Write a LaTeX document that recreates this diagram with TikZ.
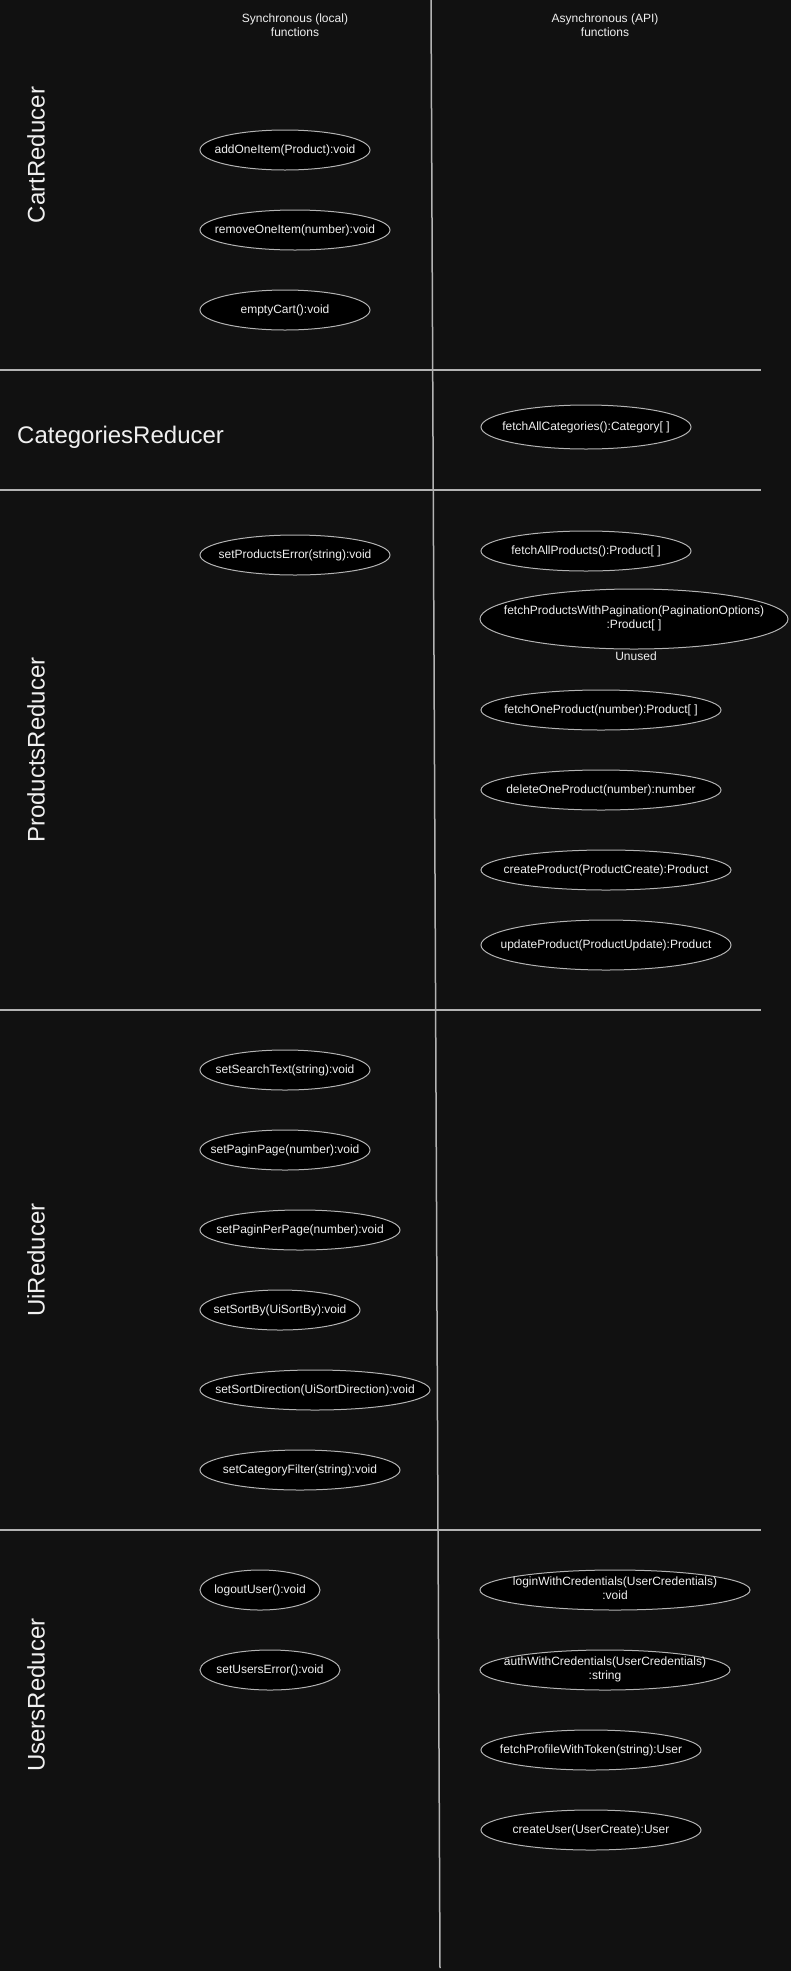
\documentclass[tikz,border=0pt]{standalone}
\usepackage{fontspec}
\setmainfont{Liberation Sans}
\usetikzlibrary{shapes.geometric}
\definecolor{bgdark}{HTML}{111111}
\definecolor{lanegray}{HTML}{B3B3B3}
\definecolor{fntext}{HTML}{F0F0F0}
\newcommand{\twoline}[2]{\begin{tabular}{@{}c@{}}#1\\#2\end{tabular}}

\begin{document}
\begin{tikzpicture}[x=1pt, y=-1pt,
    fn/.style={ellipse, draw=lanegray, line width=1pt, fill=black, text=fntext,
        font=\fontsize{12}{14}\selectfont, inner sep=0pt, minimum height=40, minimum width=#1,
        execute at begin node={\hbox to 0pt\bgroup\hss}, execute at end node={\hss\egroup}},
    lane/.style={text=fntext, font=\fontsize{24}{28}\selectfont, inner sep=0pt},
    head/.style={text=fntext, font=\fontsize{12}{14}\selectfont, align=center, inner sep=0pt},
    divider/.style={draw=lanegray, line width=1.5pt}]
    \fill[bgdark] (0,0) rectangle (791,1971);
    \useasboundingbox (0,0) rectangle (791,1971);

    \coordinate (coltop) at (431,0);
    \coordinate (colbot) at (440,1968);
    \draw[divider] (coltop) -- (colbot);

    \coordinate (cutA) at (0,370);
    \coordinate (cutB) at (0,490);
    \coordinate (cutC) at (0,1010);
    \coordinate (cutD) at (0,1530);
    \draw[divider] (cutA) -- ++(761,0);
    \draw[divider] (cutB) -- ++(761,0);
    \draw[divider] (cutC) -- ++(761,0);
    \draw[divider] (cutD) -- ++(761,0);

    \node[head] (synchead) at (295,25) {Synchronous (local)\\functions};
    \node[head] (asynchead) at (605,25) {Asynchronous (API)\\functions};

    \node[lane, rotate=90] (cartlane) at (36,155) {CartReducer};
    \node[lane, anchor=west] (catlane) at (17,437) {CategoriesReducer};
    \node[lane, rotate=90] (prodlane) at (36,750) {ProductsReducer};
    \node[lane, rotate=90] (uilane) at (36,1260) {UiReducer};
    \node[lane, rotate=90] (userlane) at (36,1695) {UsersReducer};

    \node[fn=170] (addItem) at (285,150) {addOneItem(Product):void};
    \node[fn=190] (removeItem) at (295,230) {removeOneItem(number):void};
    \node[fn=170] (emptyCart) at (285,310) {emptyCart():void};

    \node[fn=210, minimum height=44] (fetchCats) at (586,427) {fetchAllCategories():Category[ ]};

    \node[fn=190] (prodError) at (295,555) {setProductsError(string):void};
    \node[fn=210] (fetchProds) at (586,551) {fetchAllProducts():Product[ ]};
    \node[fn=308, minimum height=60] (fetchPaged) at (634,619)
        {\twoline{fetchProductsWithPagination(PaginationOptions)}{:Product[ ]}};
    \node[head, anchor=base] (unused) at (636,660) {Unused};
    \node[fn=240] (fetchOne) at (601,710) {fetchOneProduct(number):Product[ ]};
    \node[fn=240] (deleteOne) at (601,790) {deleteOneProduct(number):number};
    \node[fn=250] (createProd) at (606,870) {createProduct(ProductCreate):Product};
    \node[fn=250, minimum height=50] (updateProd) at (606,945) {updateProduct(ProductUpdate):Product};

    \node[fn=170] (searchText) at (285,1070) {setSearchText(string):void};
    \node[fn=170] (paginPage) at (285,1150) {setPaginPage(number):void};
    \node[fn=200] (perPage) at (300,1230) {setPaginPerPage(number):void};
    \node[fn=160] (sortBy) at (280,1310) {setSortBy(UiSortBy):void};
    \node[fn=230] (sortDir) at (315,1390) {setSortDirection(UiSortDirection):void};
    \node[fn=200] (catFilter) at (300,1470) {setCategoryFilter(string):void};

    \node[fn=120] (logout) at (260,1590) {logoutUser():void};
    \node[fn=140] (usersError) at (270,1670) {setUsersError():void};
    \node[fn=270] (login) at (615,1590) {\twoline{loginWithCredentials(UserCredentials)}{:void}};
    \node[fn=250] (auth) at (605,1670) {\twoline{authWithCredentials(UserCredentials)}{:string}};
    \node[fn=220] (profile) at (591,1750) {fetchProfileWithToken(string):User};
    \node[fn=220] (createUser) at (591,1830) {createUser(UserCreate):User};
\end{tikzpicture}
\end{document}
